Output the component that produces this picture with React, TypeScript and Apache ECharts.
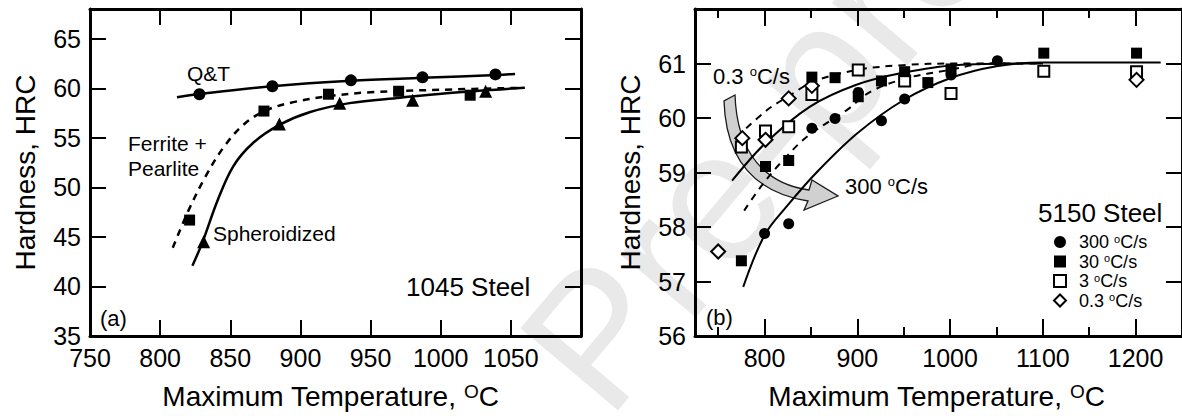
import React, { useEffect, useRef } from "react";
import * as echarts from "echarts";

// ---------- Data ----------
// Panel (a): 1045 steel
const leftTempTicks = [750, 800, 850, 900, 950, 1000, 1050];
const leftHrcTicks = [35, 40, 45, 50, 55, 60, 65];

const qtTemp = [828, 880, 936, 987, 1039];
const qtHrc = [59.4, 60.2, 60.8, 61.1, 61.4];
const fpTemp = [821, 874, 920, 970, 1021];
const fpHrc = [46.7, 57.7, 59.4, 59.7, 59.3];
const spTemp = [831, 885, 928, 980, 1032];
const spHrc = [44.5, 56.4, 58.5, 58.8, 59.7];

const qtFitTemp = [812, 830, 880, 936, 987, 1040, 1053];
const qtFitHrc = [59.1, 59.45, 60.2, 60.75, 61.05, 61.35, 61.45];
const fpFitTemp = [809, 820, 832, 845, 860, 876, 895, 920, 950, 1000, 1059];
const fpFitHrc = [43.9, 47.6, 51.0, 54.0, 56.4, 57.8, 58.6, 59.2, 59.6, 59.85, 60.05];
const spFitTemp = [823, 830, 841, 852, 866, 885, 907, 935, 971, 1004, 1060];
const spFitHrc = [42.1, 44.4, 48.7, 52.1, 54.45, 56.3, 57.6, 58.5, 59.05, 59.5, 60.05];

// Panel (b): 5150 steel
const rightTempMajor = [800, 900, 1000, 1100, 1200];
const rightTempMinor = [750, 850, 950, 1050, 1150];
const rightHrcTicks = [56, 57, 58, 59, 60, 61];

const r300Temp = [800, 826, 851, 876, 901, 926, 951, 1001, 1051];
const r300Hrc = [57.88, 58.06, 59.81, 59.99, 60.47, 59.95, 60.35, 60.79, 61.05];
const r30Temp = [775, 801, 826, 851, 876, 901, 926, 951, 976, 1001, 1101, 1201];
const r30Hrc = [57.38, 59.11, 59.22, 60.75, 60.74, 60.39, 60.68, 60.85, 60.65, 60.9, 61.19, 61.19];
const r3Temp = [775, 801, 826, 851, 901, 951, 1001, 1101, 1201];
const r3Hrc = [59.47, 59.76, 59.84, 60.43, 60.88, 60.68, 60.45, 60.86, 60.85];
const r03Temp = [750, 776, 801, 826, 851, 1201];
const r03Hrc = [57.55, 59.63, 59.6, 60.36, 60.59, 60.7];

const fitATemp = [777, 800, 825, 856, 900, 950, 1000, 1050, 1100, 1227];
const fitAHrc = [56.9, 57.85, 58.4, 59.0, 59.72, 60.33, 60.73, 60.95, 61.02, 61.02];
const fitBTemp = [765, 801, 849, 899, 949, 1006, 1100];
const fitBHrc = [58.85, 59.54, 60.21, 60.61, 60.83, 60.97, 61.0];
const fitCTemp = [770, 803, 826, 853, 899, 949, 1006, 1060];
const fitCHrc = [59.65, 60.15, 60.4, 60.67, 60.88, 60.97, 61.0, 61.0];
const fitDTemp = [778, 796, 817, 846, 889, 914, 953, 999, 1042, 1100];
const fitDHrc = [58.3, 58.74, 59.17, 59.66, 60.15, 60.48, 60.73, 60.88, 61.0, 61.0];

const legendNames = ["300 °C/s", "30 °C/s", "3 °C/s", "0.3 °C/s"];

// ---------- Helpers ----------
const FONT = "'Liberation Sans', Arial, Helvetica, sans-serif";
const BLACK = "#000";
const zip = (xs: number[], ys: number[]) => xs.map((x, i) => [x, ys[i]]);

echarts.graphic.registerShape(
  "bendArrow",
  echarts.graphic.extendPath(
    "M724 101 C726 163 758 193 808 201 L804 210 L838 196 L812 180 L809 190 C766 184 737 154 735 95 Z",
    {}
  )
);

function axis(opts: any) {
  const {
    gridIndex, position, min, max, ticks, tickLen, labels, showLine, name, nameGap, namePad,
  } = opts;
  return {
    type: "value",
    gridIndex,
    position,
    min,
    max,
    axisLine: { show: showLine, onZero: false, lineStyle: { color: BLACK, width: 3 } },
    axisTick: {
      show: true,
      inside: true,
      length: tickLen,
      customValues: ticks,
      lineStyle: { color: BLACK, width: 2 },
    },
    axisLabel: labels
      ? {
          show: true,
          customValues: labels,
          formatter: (v: number) => String(v),
          fontSize: 25,
          color: BLACK,
          fontFamily: FONT,
          margin: 9,
        }
      : { show: false },
    splitLine: { show: false },
    minorTick: { show: false },
    ...(name
      ? {
          name,
          nameLocation: "middle",
          nameGap,
          nameTextStyle: {
            fontSize: 28,
            color: BLACK,
            fontFamily: FONT,
            padding: namePad || 0,
            rich: { sup: { fontSize: 19, color: BLACK, fontFamily: FONT, verticalAlign: "top" } },
          },
        }
      : {}),
  };
}

const xTitle = "Maximum Temperature, {sup|O}C";

function lineSeries(xi: number, yi: number, xs: number[], ys: number[], dashed: boolean, width: number) {
  return {
    type: "line",
    xAxisIndex: xi,
    yAxisIndex: yi,
    data: zip(xs, ys),
    smooth: 0.35,
    symbol: "none",
    silent: true,
    lineStyle: { color: BLACK, width, type: dashed ? [7, 6] : "solid" },
    z: 2,
  };
}

function scatterSeries(name: string, xi: number, yi: number, xs: number[], ys: number[], symbol: string, size: number, open: boolean) {
  return {
    type: "scatter",
    name,
    xAxisIndex: xi,
    yAxisIndex: yi,
    data: zip(xs, ys),
    symbol,
    symbolSize: size,
    itemStyle: open
      ? { color: "#fff", borderColor: BLACK, borderWidth: 2, opacity: 1 }
      : { color: BLACK, borderWidth: 0, opacity: 1 },
    z: 3,
  };
}

function txt(text: string, x: number, y: number, fontSize: number, supSize?: number) {
  return {
    type: "text",
    x,
    y,
    z: 10,
    style: {
      text,
      fontSize,
      fontFamily: FONT,
      fill: BLACK,
      align: "left",
      verticalAlign: "middle",
      rich: supSize
        ? {
            sup: { fontSize: supSize, fontFamily: FONT, fill: BLACK, verticalAlign: "top" },
          }
        : undefined,
    },
  };
}

const option: any = {
  animation: false,
  backgroundColor: "#fff",
  grid: [
    { left: 90, top: 9, width: 491, height: 327 },
    { left: 695, top: 9, width: 490, height: 327 },
  ],
  xAxis: [
    axis({ gridIndex: 0, position: "bottom", min: 750, max: 1100, ticks: leftTempTicks, tickLen: 16, labels: leftTempTicks, showLine: true, name: xTitle, nameGap: 46, namePad: [0, 10, 0, 0] }),
    axis({ gridIndex: 0, position: "top", min: 750, max: 1100, ticks: leftTempTicks, tickLen: 16, labels: null, showLine: true }),
    axis({ gridIndex: 1, position: "bottom", min: 725, max: 1250, ticks: rightTempMajor, tickLen: 17, labels: rightTempMajor, showLine: true, name: xTitle, nameGap: 46, namePad: [0, 4, 0, 0] }),
    axis({ gridIndex: 1, position: "bottom", min: 725, max: 1250, ticks: rightTempMinor, tickLen: 9, labels: null, showLine: false }),
    axis({ gridIndex: 1, position: "top", min: 725, max: 1250, ticks: rightTempMajor, tickLen: 17, labels: null, showLine: true }),
    axis({ gridIndex: 1, position: "top", min: 725, max: 1250, ticks: rightTempMinor, tickLen: 9, labels: null, showLine: false }),
  ],
  yAxis: [
    axis({ gridIndex: 0, position: "left", min: 35, max: 68, ticks: leftHrcTicks, tickLen: 16, labels: leftHrcTicks, showLine: true, name: "Hardness, HRC", nameGap: 51 }),
    axis({ gridIndex: 0, position: "right", min: 35, max: 68, ticks: leftHrcTicks, tickLen: 16, labels: null, showLine: true }),
    axis({ gridIndex: 1, position: "left", min: 56, max: 62, ticks: rightHrcTicks, tickLen: 16, labels: rightHrcTicks, showLine: true, name: "Hardness, HRC", nameGap: 51 }),
    axis({ gridIndex: 1, position: "right", min: 56, max: 62, ticks: rightHrcTicks, tickLen: 16, labels: null, showLine: true }),
  ],
  legend: {
    data: legendNames,
    orient: "vertical",
    left: 1048,
    top: 228,
    itemWidth: 12,
    itemHeight: 12,
    itemGap: 1.5,
    symbolKeepAspect: true,
    selectedMode: false,
    formatter: (n: string) => n.replace("°", "{sup|o}"),
    textStyle: {
      fontSize: 18,
      lineHeight: 18,
      color: BLACK,
      fontFamily: FONT,
      padding: [0, 0, 0, 8],
      rich: { sup: { fontSize: 11, color: BLACK, fontFamily: FONT, verticalAlign: "top" } },
    },
  },
  graphic: [
    {
      type: "text",
      x: 630,
      y: 440,
      rotation: (50 * Math.PI) / 180,
      z: -10,
      silent: true,
      style: { text: "Pre-proof", fontSize: 185, fontFamily: FONT, fill: "#e9e9e9", align: "left", verticalAlign: "bottom" },
    },
    { type: "bendArrow", x: 0, y: 0, z: 1, style: { fill: "#d0d0d0", stroke: "#1a1a1a", lineWidth: 1.3 } },
    txt("Q&T", 187, 73, 21),
    txt("Ferrite +", 128, 143, 21),
    txt("Pearlite", 128, 168, 21),
    txt("Spheroidized", 213, 233, 21),
    txt("1045 Steel", 406, 287, 26),
    txt("(a)", 100, 318, 22),
    txt("(b)", 706, 317, 22),
    txt("0.3 {sup|o}C/s", 713, 76, 22, 13),
    txt("300 {sup|o}C/s", 845, 186, 22, 13),
    txt("5150 Steel", 1038, 213, 26),
  ],
  series: [
    lineSeries(0, 0, qtFitTemp, qtFitHrc, false, 2.5),
    lineSeries(0, 0, fpFitTemp, fpFitHrc, true, 2.5),
    lineSeries(0, 0, spFitTemp, spFitHrc, false, 2.5),
    scatterSeries("Q&T", 0, 0, qtTemp, qtHrc, "circle", 12, false),
    scatterSeries("Ferrite + Pearlite", 0, 0, fpTemp, fpHrc, "rect", 11, false),
    scatterSeries("Spheroidized", 0, 0, spTemp, spHrc, "triangle", 13, false),

    lineSeries(2, 2, fitATemp, fitAHrc, false, 2),
    lineSeries(2, 2, fitBTemp, fitBHrc, false, 2),
    lineSeries(2, 2, fitCTemp, fitCHrc, true, 2),
    lineSeries(2, 2, fitDTemp, fitDHrc, true, 2),
    scatterSeries(legendNames[2], 2, 2, r3Temp, r3Hrc, "rect", 11, true),
    scatterSeries(legendNames[3], 2, 2, r03Temp, r03Hrc, "diamond", 14, true),
    scatterSeries(legendNames[0], 2, 2, r300Temp, r300Hrc, "circle", 11, false),
    scatterSeries(legendNames[1], 2, 2, r30Temp, r30Hrc, "rect", 11, false),
  ],
};

export default function App() {
  const ref = useRef<HTMLDivElement>(null);
  useEffect(() => {
    if (!ref.current) return;
    const chart = echarts.init(ref.current, null, { renderer: "svg" });
    chart.setOption(option);
    return () => chart.dispose();
  }, []);
  return (
    <div
      ref={ref}
      style={{ position: "fixed", left: 0, top: 0, width: 1182, height: 416, background: "#fff" }}
    />
  );
}
